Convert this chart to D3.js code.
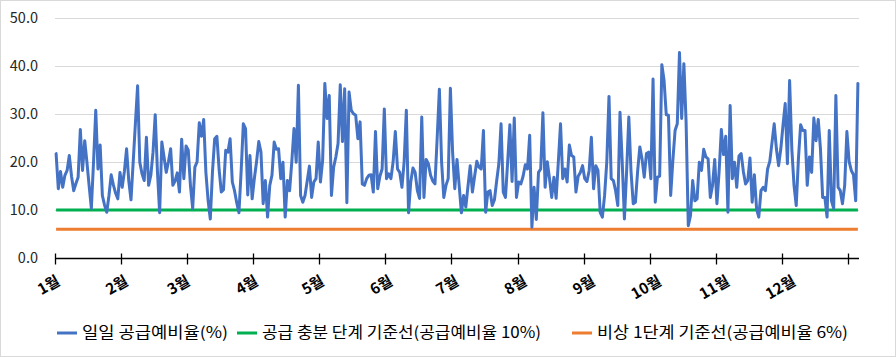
<!DOCTYPE html>
<html><head><meta charset="utf-8">
<script src="https://cdn.jsdelivr.net/npm/d3@7"></script>
<style>html,body{margin:0;padding:0;background:#fff;}svg{display:block;}</style>
</head><body>
<svg id="chart" width="896" height="357"></svg>
<script>
// ---- data ----
const dailyReserve = [
21.7,14.4,18,14.7,17.2,18.2,21.3,17,14,15.5,16.8,26.7,18.2,24.4,19.9,15,10.3,20,30.7,18.5,
23.5,13,11,9.5,13,17.3,15.2,13.5,12.3,17.8,14.7,18,22.7,16,12.1,20,28,35.8,19.9,17.5,
16.1,25.1,15.1,17.2,22,29.8,18,9.4,24.1,21,17.8,20,22.7,15.1,16,17.7,13.7,24.7,16.5,23.3,
22.4,15,10.3,18.9,20,28.1,25.3,28.8,17.8,12,8.1,18,24.8,25.3,18.4,13.7,14.2,22.4,22,24.8,
15.8,14,11.5,9.4,18,27.9,26.9,13.1,21.3,12.3,16.5,20,24.2,22,11.3,16.1,8.5,15.1,17.2,24.1,
22.6,22.7,16.5,19.9,8.5,16.1,14,20,26.9,19.9,35.9,13,11.6,13,16,19.1,12.6,15.8,16.5,24.1,
15.8,20.3,36.3,29,33.8,13,18.9,21,23.8,36,24.2,35.2,11.5,34.5,30.7,30,29.7,24.8,28.3,15.4,
15.1,16.5,17.2,17.3,13.7,26.3,14.4,17,18.5,31,16.5,17.5,16.5,20,26.3,18.5,17.8,14.7,20,30.7,
9.4,15.8,18.7,17.8,14,12.4,29.3,12.6,20.5,19.6,17.2,16,15.4,25,35.1,20,12.6,15.1,16.5,35.3,
22,14.4,20.5,15,9.4,13,10.6,15,19.2,13.7,17,20.1,18.9,18.5,26.5,9.5,13.7,14,10.9,12.1,
16,19.6,27.9,13.7,12.6,20,27.7,15.9,29.1,12.6,15.8,15.4,17,19.4,18.5,25.5,6.4,14.7,8,17.8,
18.5,30.2,14.7,20,16.5,12.6,16.8,12.4,20,27.9,16.5,18.5,15.8,23.5,21.3,21,13.7,17,17.8,19.2,
16.5,15.9,18.2,25.1,14.4,19.2,18.2,9.5,8.5,13,20,33.6,16.5,16.1,14,10.9,30.3,20,8.1,18,
29.3,18,11.3,11.6,18,23.1,20.6,16.8,21.7,22,16.5,37.2,11.6,16.8,17,40.2,36.9,29.8,29.7,13,
20.3,26.5,27.9,42.7,29,40.4,28.3,6.7,8.8,16.1,11.9,12.3,19.9,18.2,22.6,21,20.6,12.6,15.1,20.5,
11.3,18,26.7,21.5,25.3,9.5,31.7,16.5,19.9,14.7,21.2,21.7,18,15.4,16.1,20.8,11.6,17.3,10.2,8.5,
14,14.7,14,18.5,20.1,24,27.9,22.7,19.2,22.7,27.6,32.1,19.6,36.9,22.7,15.1,10.9,20.6,27.7,26.5,
26.5,15.1,21,17.8,29.1,24.4,28.8,22.7,12.6,12.6,8.5,26.5,11.9,10.3,33.8,14.7,14,11.3,15.1,26.3,
20.1,18.2,17.3,11.9,36.3
];
const sufficientLevel = 10;   // 공급 충분 단계 기준선
const emergencyLevel = 6;     // 비상 1단계 기준선
const yTicks = [0, 10, 20, 30, 40, 50];
const monthLabels = ["1월","2월","3월","4월","5월","6월","7월","8월","9월","10월","11월","12월"];
const monthStartDays = [0,31,59,90,120,151,181,212,243,273,304,334];
const tickDays = [0,30,60,90,120,150,180,210,240,270,300,330,360];
const legendNames = ["일일 공급예비율(%)","공급 충분 단계 기준선(공급예비율 10%)","비상 1단계 기준선(공급예비율 6%)"];
const colors = ["#4472C4","#00B050","#ED7D31"];

// ---- layout ----
const svg = d3.select("#chart");
const W = 896, H = 357;
const FONT = "'Noto Sans CJK KR','Noto Sans',sans-serif";
svg.append("rect").attr("x",0.5).attr("y",0.5).attr("width",W-1).attr("height",H-1)
  .attr("fill","#fff").attr("stroke","#D9D9D9");

const x = d3.scaleLinear().domain([0, dailyReserve.length]).range([55, 859]);
const y = d3.scaleLinear().domain([0, 50]).range([258, 17.5]);

// gridlines
svg.append("g").selectAll("line").data(yTicks.filter(d=>d>0)).join("line")
  .attr("x1",55).attr("x2",859).attr("y1",d=>Math.round(y(d))+0.5).attr("y2",d=>Math.round(y(d))+0.5)
  .attr("stroke","#D9D9D9").attr("stroke-width",1);

// y labels
svg.append("g").selectAll("text").data(yTicks).join("text")
  .attr("x",38).attr("y",d=>y(d)).attr("dy","0.35em").attr("text-anchor","end")
  .attr("font-family",FONT).attr("font-size",14.5).attr("fill","#262626")
  .text(d=>d.toFixed(1));

// reference lines
svg.append("line").attr("x1",x(0.5)).attr("x2",x(dailyReserve.length-0.5))
  .attr("y1",y(sufficientLevel)).attr("y2",y(sufficientLevel))
  .attr("stroke",colors[1]).attr("stroke-width",3);
svg.append("line").attr("x1",x(0.5)).attr("x2",x(dailyReserve.length-0.5))
  .attr("y1",y(emergencyLevel)).attr("y2",y(emergencyLevel))
  .attr("stroke",colors[2]).attr("stroke-width",3);

// main line
const line = d3.line().x((d,i)=>x(i+0.5)).y(d=>y(d));
svg.append("path").datum(dailyReserve).attr("d",line)
  .attr("fill","none").attr("stroke",colors[0]).attr("stroke-width",3)
  .attr("stroke-linejoin","round").attr("stroke-linecap","round");

// x axis
const y0 = Math.round(y(0))+0.5;
svg.append("line").attr("x1",55).attr("x2",859).attr("y1",y0).attr("y2",y0)
  .attr("stroke","#000").attr("stroke-width",1.3);
svg.append("g").selectAll("line").data(tickDays).join("line")
  .attr("x1",d=>Math.round(x(d))+0.5).attr("x2",d=>Math.round(x(d))+0.5)
  .attr("y1",y0-5).attr("y2",y0+6).attr("stroke","#000").attr("stroke-width",1.3);

svg.append("g").selectAll("text").data(monthLabels).join("text")
  .attr("transform",(d,i)=>`translate(${x(monthStartDays[i])+6},${284}) rotate(-30)`)
  .attr("text-anchor","end").attr("font-family",FONT).attr("font-weight","bold")
  .attr("font-size",15).attr("fill","#000").text(d=>d);

// legend
const legX = [57, 237, 572];
const legTextW = [146, 279, 251];
const lg = svg.append("g");
legendNames.forEach((n,i)=>{
  lg.append("line").attr("x1",legX[i]).attr("x2",legX[i]+20).attr("y1",333).attr("y2",333)
    .attr("stroke",colors[i]).attr("stroke-width",3);
  lg.append("text").attr("x",legX[i]+25).attr("y",333).attr("dy","0.35em")
    .attr("font-family",FONT).attr("font-size",15.5).attr("fill","#000")
    .attr("textLength",legTextW[i]).attr("lengthAdjust","spacingAndGlyphs").text(n);
});
</script>
</body></html>
